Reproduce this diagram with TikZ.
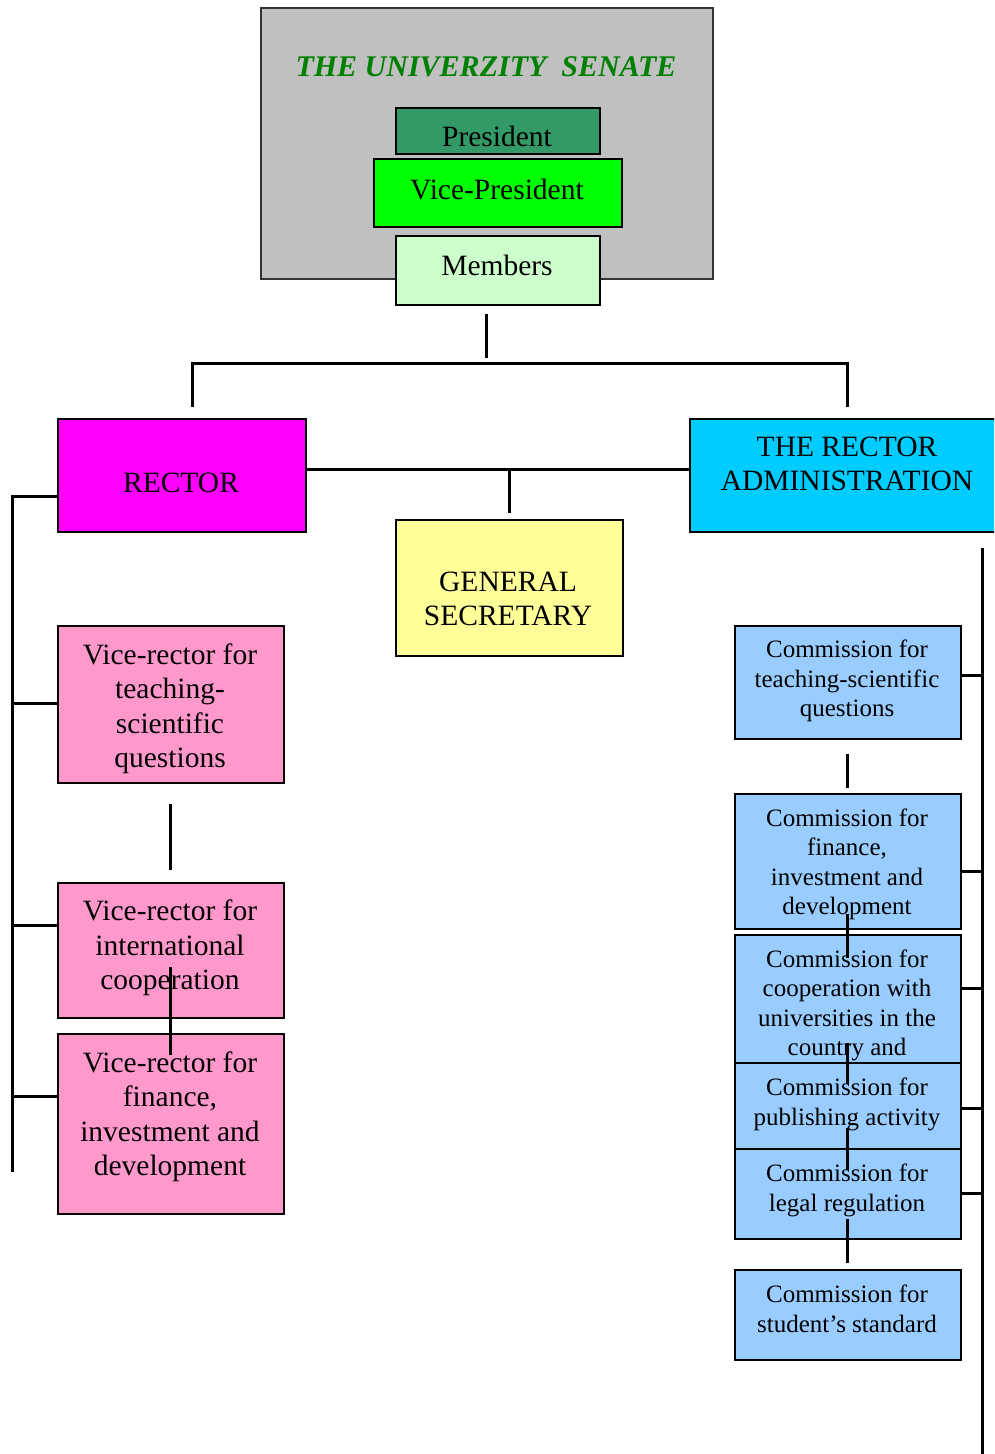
\documentclass[tikz,border=0pt]{standalone}
\usepackage{fontspec}
\setmainfont{Liberation Serif}
\definecolor{senategray}{HTML}{C0C0C0}
\definecolor{senateborder}{HTML}{333333}
\definecolor{titlegreen}{HTML}{008000}
\definecolor{presgreen}{HTML}{339966}
\definecolor{vpgreen}{HTML}{00FF00}
\definecolor{memgreen}{HTML}{CCFFCC}
\definecolor{rectormag}{HTML}{FF00FF}
\definecolor{admincyan}{HTML}{00CCFF}
\definecolor{gsyellow}{HTML}{FFFF99}
\definecolor{vrpink}{HTML}{FF99CC}
\definecolor{commblue}{HTML}{99CCFF}
\begin{document}
\begin{tikzpicture}[x=1pt,y=-1pt,
  box/.style={draw=black, line width=1.6pt, inner sep=0pt, anchor=north west},
  txt/.style={align=center, inner sep=0pt, text=black,
    font=\fontsize{29.5}{34.5}\selectfont,
    execute at begin node=\strut, execute at end node=\strut},
  ctxt/.style={txt, font=\fontsize{25}{29.5}\selectfont},
  conn/.style={line width=3pt, draw=black}]
\fill[white] (0,0) rectangle (994,1454);
\clip (0,0) rectangle (994,1454);
% --- boxes ---
\node[box, draw=senateborder, fill=senategray, minimum width=452, minimum height=271] (senate) at (260,7) {};
\node[box, fill=presgreen, minimum width=204, minimum height=46] (pres) at (395,107) {};
\node[box, fill=vpgreen, minimum width=248, minimum height=68] (vp) at (373,158) {};
\node[box, fill=memgreen, minimum width=204, minimum height=69] (mem) at (395,235) {};
\node[box, fill=rectormag, minimum width=248, minimum height=113] (rector) at (57,418) {};
\node[box, fill=admincyan, minimum width=321, minimum height=113] (admin) at (689,418) {};
\node[box, fill=gsyellow, minimum width=227, minimum height=136] (gs) at (395,519) {};
\node[box, fill=vrpink, minimum width=226, minimum height=157] (vr1) at (57,625) {};
\node[box, fill=vrpink, minimum width=226, minimum height=135] (vr2) at (57,882) {};
\node[box, fill=vrpink, minimum width=226, minimum height=180] (vr3) at (57,1033) {};
\node[box, fill=commblue, minimum width=226, minimum height=113] (c1) at (734,625) {};
\node[box, fill=commblue, minimum width=226, minimum height=135] (c2) at (734,793) {};
\node[box, fill=commblue, minimum width=226, minimum height=128] (c3) at (734,934) {};
\node[box, fill=commblue, minimum width=226, minimum height=86] (c4) at (734,1062) {};
\node[box, fill=commblue, minimum width=226, minimum height=90] (c5) at (734,1148) {};
\node[box, fill=commblue, minimum width=226, minimum height=90] (c6) at (734,1269) {};
% --- texts ---
\node[txt, text=titlegreen, font=\fontsize{30}{36}\selectfont\bfseries\itshape] (ttitle) at (486,69) {THE UNIVERZITY\ \ SENATE};
\node[txt] (tpres) at (497,140) {President};
\node[txt] (tvp) at (497,193) {Vice-President};
\node[txt] (tmem) at (497,269) {Members};
\node[txt] (trector) at (181,486) {RECTOR};
\node[txt, font=\fontsize{29.5}{34}\selectfont] (tadmin) at (847,469) {THE RECTOR\\ADMINISTRATION};
\node[txt] (tgs) at (508,604) {GENERAL\\SECRETARY};
\node[txt] (tvr1) at (170,711) {Vice-rector for\\teaching-\\scientific\\questions};
\node[txt] (tvr2) at (170,950) {Vice-rector for\\international\\cooperation};
\node[txt] (tvr3) at (170,1119) {Vice-rector for\\finance,\\investment and\\development};
\node[ctxt] (tc1) at (847,683) {Commission for\\teaching-scientific\\questions};
\node[ctxt] (tc2) at (847,866) {Commission for\\finance,\\investment and\\development};
\node[ctxt] (tc3) at (847,1007) {Commission for\\cooperation with\\universities in the\\country and};
\node[ctxt] (tc4) at (847,1106) {Commission for\\publishing activity};
\node[ctxt] (tc5) at (847,1192) {Commission for\\legal regulation};
\node[ctxt] (tc6) at (847,1313) {Commission for\\student’s standard};
% --- connector end points ---
\coordinate (mtop) at (486,314);
\coordinate (mbot) at (486,358);
\coordinate (barL) at (192,363);
\coordinate (barR) at (847,363);
\coordinate (barLd) at (192,407);
\coordinate (barRd) at (847,407);
\coordinate (raL) at (305,469);
\coordinate (raR) at (689,469);
\coordinate (gsT) at (509,469);
\coordinate (gsB) at (509,513);
\coordinate (lsTop) at (12,496);
\coordinate (lsBot) at (12,1172);
\coordinate (rsTop) at (982,548);
\coordinate (rsBot) at (982,1460);
\coordinate (v12a) at (170,804);
\coordinate (v12b) at (170,870);
\coordinate (v23a) at (170,967);
\coordinate (v23b) at (170,1055);
\coordinate (k12a) at (847,754);
\coordinate (k12b) at (847,788);
\coordinate (k23a) at (847,914);
\coordinate (k23b) at (847,958);
\coordinate (k34a) at (847,1043);
\coordinate (k34b) at (847,1084);
\coordinate (k45a) at (847,1128);
\coordinate (k45b) at (847,1170);
\coordinate (k56a) at (847,1219);
\coordinate (k56b) at (847,1263);
% --- connectors ---
\draw[conn] (mtop) -- (mbot);
\draw[conn] (barLd) -- (barL) -- (barR) -- (barRd);
\draw[conn] (raL) -- (raR);
\draw[conn] (gsT) -- (gsB);
\draw[conn] (lsBot) -- (lsTop) -- (lsTop -| rector.west);
\draw[conn] (lsTop |- 0,703) -- (vr1.west |- 0,703);
\draw[conn] (lsTop |- 0,925) -- (vr2.west |- 0,925);
\draw[conn] (lsTop |- 0,1096) -- (vr3.west |- 0,1096);
\draw[conn] (v12a) -- (v12b);
\draw[conn] (v23a) -- (v23b);
\draw[conn] (rsTop) -- (rsBot);
\draw[conn] (c1.east |- 0,675) -- (rsTop |- 0,675);
\draw[conn] (c2.east |- 0,871) -- (rsTop |- 0,871);
\draw[conn] (c3.east |- 0,988) -- (rsTop |- 0,988);
\draw[conn] (c4.east |- 0,1108) -- (rsTop |- 0,1108);
\draw[conn] (c5.east |- 0,1193) -- (rsTop |- 0,1193);
\draw[conn] (k12a) -- (k12b);
\draw[conn] (k23a) -- (k23b);
\draw[conn] (k34a) -- (k34b);
\draw[conn] (k45a) -- (k45b);
\draw[conn] (k56a) -- (k56b);
\end{tikzpicture}
\end{document}
